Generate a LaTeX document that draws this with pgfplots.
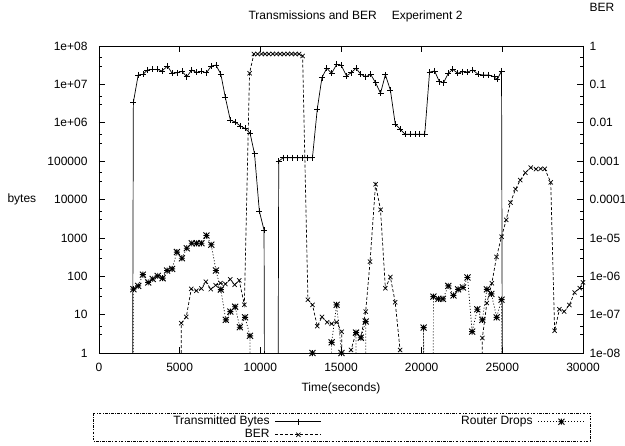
\documentclass[border=0pt]{standalone}
\usepackage{fontspec}
\setmainfont{Liberation Sans}
\usepackage{pgfplots}
\usepackage{pgfplotstable}
\pgfplotsset{compat=1.18}

\newcommand\fs{\fontsize{12}{14}\selectfont}

% gnuplot point type 3: + and x on top of each other
\pgfdeclareplotmark{gstar}{%
  \pgfpathmoveto{\pgfqpoint{-\pgfplotmarksize}{0pt}}%
  \pgfpathlineto{\pgfqpoint{\pgfplotmarksize}{0pt}}%
  \pgfpathmoveto{\pgfqpoint{0pt}{-\pgfplotmarksize}}%
  \pgfpathlineto{\pgfqpoint{0pt}{\pgfplotmarksize}}%
  \pgfpathmoveto{\pgfqpoint{-\pgfplotmarksize}{-\pgfplotmarksize}}%
  \pgfpathlineto{\pgfqpoint{\pgfplotmarksize}{\pgfplotmarksize}}%
  \pgfpathmoveto{\pgfqpoint{-\pgfplotmarksize}{\pgfplotmarksize}}%
  \pgfpathlineto{\pgfqpoint{\pgfplotmarksize}{-\pgfplotmarksize}}%
  \pgfusepathqstroke}

% zero samples are written as 1e-40 (1e-48 for BER) so the log axis can take them;
% m=0 rows get no mark
\pgfplotstableread{
t v m
1830 1e-40 0
2130 3.4e6 1
2430 1.76e7 1
2720 1.82e7 1
3000 2.37e7 1
3310 2.45e7 1
3610 2.45e7 1
3920 2.24e7 1
4240 3.02e7 1
4530 1.95e7 1
4830 2.0e7 1
5140 2.19e7 1
5440 1.58e7 1
5750 2.37e7 1
6050 2.04e7 1
6350 2.19e7 1
6660 2.0e7 1
6960 3.02e7 1
7250 3.16e7 1
7550 1.86e7 1
7830 4.6e6 1
8140 1.17e6 1
8440 1.05e6 1
8750 8.3e5 1
9050 7.1e5 1
9360 5.4e5 1
9640 1.55e5 1
9940 4.9e3 1
10230 1.6e3 1
10530 1e-40 0
10840 1e-40 0
11140 1.0e5 1
11420 1.23e5 1
11700 1.23e5 1
12010 1.23e5 1
12310 1.23e5 1
12620 1.23e5 1
12920 1.23e5 1
13230 1.23e5 1
13530 2.29e6 1
13820 1.51e7 1
14120 2.63e7 1
14420 1.95e7 1
14730 3.31e7 1
15010 3.16e7 1
15340 1.66e7 1
15620 2.0e7 1
15930 2.63e7 1
16230 1.82e7 1
16530 1.58e7 1
16840 1.82e7 1
17140 1.11e7 1
17450 5.9e6 1
17750 1.78e7 1
18060 7.1e6 1
18360 9.3e5 1
18670 6.8e5 1
18970 5.0e5 1
19270 5.0e5 1
19580 5.0e5 1
19880 5.0e5 1
20190 5.0e5 1
20490 2.09e7 1
20800 2.24e7 1
21100 1.17e7 1
21360 1.11e7 1
21650 1.95e7 1
21930 2.45e7 1
22230 1.95e7 1
22540 2.14e7 1
22840 2.09e7 1
23170 2.37e7 1
23500 1.82e7 1
23820 1.76e7 1
24150 1.76e7 1
24480 1.58e7 1
24690 1.35e7 1
24950 2.24e7 1
25250 1e-40 0
}\tbytes

\pgfplotstableread{
t v m
4800 1e-48 0
5100 6.0e-8 1
5410 8.7e-8 1
5720 4.7e-7 1
6040 4.2e-7 1
6350 4.8e-7 1
6620 7.2e-7 1
6930 4.6e-7 1
7230 5.8e-7 1
7530 6.6e-7 1
7830 6.3e-7 1
8130 8.3e-7 1
8410 6.0e-7 1
8690 7.8e-7 1
9010 1.8e-7 1
9330 0.195 1
9600 0.62 1
9830 0.62 1
10070 0.62 1
10300 0.62 1
10530 0.62 1
10770 0.62 1
11000 0.62 1
11230 0.62 1
11470 0.62 1
11700 0.62 1
11930 0.62 1
12170 0.62 1
12400 0.62 1
12620 0.55 1
12950 2.45e-7 1
13230 1.8e-7 1
13530 5.0e-8 1
13820 8.7e-8 1
14140 6.3e-8 1
14420 5.8e-8 1
14730 6.3e-8 1
15040 3.6e-8 1
15330 1e-48 0
15620 1.2e-8 1
15930 3.4e-8 1
16230 2.5e-8 1
16530 1.2e-7 1
16800 2.4e-6 1
17140 2.5e-4 1
17450 5.4e-5 1
17750 4.9e-7 1
18060 9.5e-7 1
18360 2.1e-7 1
18660 1.2e-8 1
18960 1e-48 0
23450 1e-48 0
23760 2.45e-8 1
24040 2.0e-7 1
24350 6.6e-7 1
24640 3.2e-6 1
24950 1.07e-5 1
25240 2.95e-5 1
25500 8.3e-5 1
25820 1.86e-4 1
26110 3.2e-4 1
26430 5.0e-4 1
26760 6.8e-4 1
27090 6.2e-4 1
27370 6.3e-4 1
27630 6.3e-4 1
28000 2.8e-4 1
28240 3.8e-8 1
28540 1.38e-7 1
28830 1.2e-7 1
29150 1.78e-7 1
29480 3.8e-7 1
29800 4.9e-7 1
30000 6.9e-7 1
}\ber

\pgfplotstableread{
t v m
1830 1e-40 0
2130 46 1
2430 56 1
2720 110 1
3050 69 1
3330 85 1
3640 102 1
3940 89 1
4220 141 1
4530 155 1
4830 427 1
5140 295 1
5440 537 1
5750 724 1
6050 724 1
6350 724 1
6660 1150 1
6960 661 1
7250 141 1
7550 45 1
7860 7.3 1
8140 12 1
8440 16 1
8730 4.7 1
9050 8.5 1
9360 2.8 1
9660 1e-40 0
12930 1e-40 0
13230 1 1
13530 1e-40 0
14120 1e-40 0
14420 1.9 1
14730 18 1
15030 1 1
15330 1e-40 0
15630 1e-40 0
15930 3.4 1
16230 2.5 1
16530 6.6 1
16830 1e-40 0
19820 1e-40 0
20120 4.6 1
20430 1e-40 0
20730 29.5 1
21040 25.7 1
21320 25.7 1
21650 56 1
21970 31.6 1
22260 45.7 1
22560 51 1
22840 93 1
23130 3.6 1
23450 13.8 1
23760 7.3 1
24040 45.7 1
24320 34.7 1
24650 8.5 1
24950 24.5 1
25250 1e-40 0
}\drops

\pgfplotsset{
  gp/.style={
    scale only axis, width=484pt, height=307pt,
    at={(0,0)}, anchor=south west,
    xmin=0, xmax=30000,
    tick align=inside,
    major tick length=6pt, minor tick length=3pt,
    every tick/.style={black, line width=0.6pt},
    axis line style={line width=0.8pt},
    tick label style={font=\fs},
    label style={font=\fs},
  },
  tbline/.style={black, line width=0.7pt},
  berline/.style={black, line width=0.7pt, dash pattern=on 3pt off 2pt},
  rdline/.style={black, line width=0.7pt, dash pattern=on 1pt off 2pt},
  tbmark/.style={black, mark=+, mark size=3pt, mark options={solid, line width=0.7pt}},
  bermark/.style={black, mark=x, mark size=3pt, mark options={solid, line width=0.7pt}},
  rdmark/.style={black, mark=gstar, mark size=3pt, mark options={solid, line width=0.9pt}},
  marksonly/.style={only marks, restrict expr to domain={\thisrow{m}}{0.5:1.5}},
}

\begin{document}
\begin{tikzpicture}
\begin{axis}[gp, name=main,
  ymode=log, ymin=1, ymax=1e8,
  scaled x ticks=false,
  xtick={0,5000,10000,15000,20000,25000,30000},
  xticklabels={0,5000,10000,15000,20000,25000,30000},
  xticklabel style={yshift=-6.5pt},
  ytick={1,10,100,1000,10000,100000,1000000,10000000,100000000},
  yticklabels={1,10,100,1000,10000,100000,1e+06,1e+07,1e+08},
  minor ytick={3,5,30,50,300,500,3000,5000,30000,50000,300000,500000,3000000,5000000,30000000,50000000},
  yticklabel style={xshift=-8pt},
  ytick pos=left, xtick pos=both,
  xlabel={Time(seconds)},
  every axis x label/.style={at={(rel axis cs:0.5,0)}, anchor=north, yshift=-26.5pt, font=\fs},
  ylabel={bytes},
  every axis y label/.style={at={(rel axis cs:0,0.5)}, anchor=west, xshift=-95pt, font=\fs},
  title={Transmissions and BER\hspace{15pt}Experiment 2},
  every axis title/.style={at={(rel axis cs:0.3017,1)}, anchor=base west, yshift=26pt, font=\fs},
]
\addplot[tbline] table[x=t, y=v] {\tbytes};
\addplot[tbmark, marksonly] table[x=t, y=v] {\tbytes};
\addplot[rdline] table[x=t, y=v] {\drops};
\addplot[rdmark, marksonly] table[x=t, y=v] {\drops};
\end{axis}

\begin{axis}[gp,
  hide x axis,
  ymode=log, ymin=1e-8, ymax=1,
  ytick={1e-8,1e-7,1e-6,1e-5,1e-4,1e-3,1e-2,1e-1,1},
  yticklabels={1e-08,1e-07,1e-06,1e-05,0.0001,0.001,0.01,0.1,1},
  minor ytick={3e-8,5e-8,3e-7,5e-7,3e-6,5e-6,3e-5,5e-5,3e-4,5e-4,3e-3,5e-3,3e-2,5e-2,0.3,0.5},
  yticklabel style={xshift=3pt},
  ytick pos=right,
  ylabel={BER},
  every axis y label/.style={at={(rel axis cs:1,1)}, anchor=base west, xshift=3pt, yshift=34pt, font=\fs},
  legend columns=2,
  legend plot pos=right,
  legend cell align=right,
  legend style={draw=none, fill=none, at={(rel axis cs:1.0041,-0.2020)}, anchor=north east,
    inner sep=0pt, font=\fs,
    nodes={inner sep=0.5pt, text height=9pt, text depth=3pt},
    /tikz/every odd column/.append style={column sep=5pt},
    /tikz/every even column/.append style={column sep=139pt}},
  legend image code/.code={\draw[mark repeat=2, mark phase=2, #1]
    plot coordinates {(0pt,0pt) (23pt,0pt) (46pt,0pt)};},
]
\addlegendimage{tbline, tbmark}
\addlegendentry{Transmitted Bytes}
\addlegendimage{rdline, rdmark}
\addlegendentry{Router Drops}
\addlegendimage{berline, bermark}
\addlegendentry{BER}
\addplot[berline, forget plot] table[x=t, y=v] {\ber};
\addplot[bermark, marksonly, forget plot] table[x=t, y=v] {\ber};
\end{axis}

% dash-dot key box
\draw[line width=0.5pt, dash pattern=on 2.5pt off 1.5pt on 0.7pt off 1.5pt]
  ([xshift=-6pt,yshift=-60pt]main.south west) rectangle ([xshift=7pt,yshift=-88pt]main.south east);

\pgfresetboundingbox
\useasboundingbox ([xshift=-99pt,yshift=-93pt]main.south west) rectangle ([xshift=42pt,yshift=46pt]main.north east);
\end{tikzpicture}
\end{document}
